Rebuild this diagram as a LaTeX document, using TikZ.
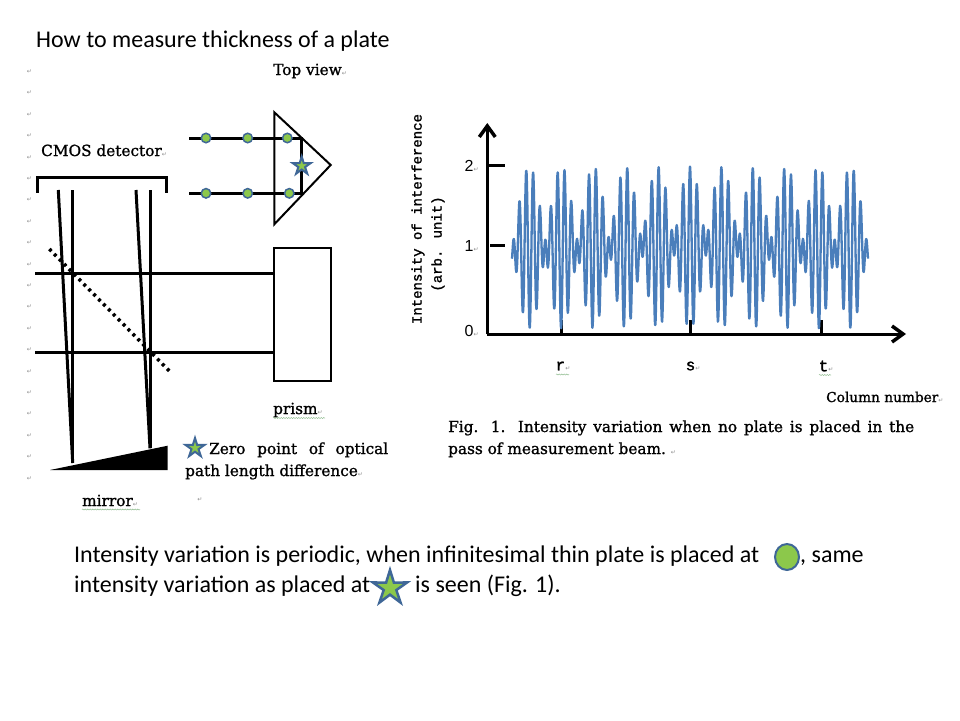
\documentclass[tikz,border=0pt]{standalone}
\usepackage{fontspec}
\setmainfont{Carlito}
\newfontfamily\labelfont{DejaVu Serif}[FakeBold=1.2]
\newfontfamily\monofont{Liberation Mono}[FakeBold=1.5]
\newfontfamily\numfont{Liberation Sans}
\newfontfamily\markfont{DejaVu Sans}
\usetikzlibrary{arrows.meta,shapes.geometric,decorations.pathmorphing}
\definecolor{platefill}{HTML}{8CC84B}
\definecolor{plateedge}{HTML}{3F6797}
\definecolor{curveblue}{HTML}{4A7EBB}
\definecolor{squigglegreen}{HTML}{8DBB8D}
\newcommand{\retmark}{{\markfont\mdseries\fontsize{6}{6}\selectfont\textcolor{black!45}{↵}}}
\tikzset{
  beam/.style={line width=3pt},
  heavy/.style={line width=3pt},
  thinbox/.style={line width=2pt},
  axis/.style={line width=3pt,-{Straight Barb[length=11pt,width=16pt,line width=3.5pt]}},
  platedot/.style={circle,fill=platefill,draw=plateedge,line width=1.5pt,inner sep=0pt,minimum size=9.5pt},
  zerostar/.style={star,star points=5,star point ratio=2.7,fill=platefill,draw=plateedge,line width=2pt,inner sep=0pt},
  lab/.style={font=\labelfont\fontsize{15.3}{17}\selectfont,inner sep=0pt,anchor=base west},
  monolab/.style={font=\monofont\fontsize{14}{16}\selectfont,inner sep=0pt},
  numlab/.style={font=\numfont\fontsize{16}{16}\selectfont,inner sep=0pt,anchor=base west},
  slidetext/.style={font=\fontsize{24}{28}\selectfont,inner sep=0pt,anchor=base west},
  squiggle/.style={squigglegreen,line width=0.5pt,decorate,decoration={snake,amplitude=0.5pt,segment length=2.5pt}}
}
\begin{document}
\begin{tikzpicture}[x=1pt,y=-1pt]
\useasboundingbox (0,0) rectangle (960,720);
\node[slidetext] (title) at (36,47) {How to measure thickness of a plate};
% paragraph marks down the left side
\foreach \i in {0,...,19}
\node[inner sep=0pt] (ret\i) at (29.5,71.7+21.4*\i) {\retmark};
% top view
\node[lab] (topview) at (273,75) {Top view\retmark};
\draw[thinbox,line join=miter] (274.3,112.3) -- (330.7,165) -- (274.3,224.3) -- cycle;
\draw[beam] (189.3,138) -- (301.7,138) -- (301.7,193.3) -- (189.3,193.3);
\foreach \x/\y in {206/138,247.7/138,287.3/138,206/193.3,247.7/193.3,289.3/193.3}
\node[platedot] at (\x,\y) {};
\node[zerostar,minimum size=19pt] (topstar) at (301.7,166) {};
% detector and beams
\node[lab] (cmos) at (41,156) {CMOS detector\retmark};
\draw[heavy] (37.3,192.7) -- (37.3,177) -- (166.7,177) -- (166.7,192.7);
\draw[beam] (58.3,190) -- (72.7,463);
\draw[beam] (72.3,190) -- (72.3,463);
\draw[beam] (136,190) -- (150,448.3);
\draw[beam] (150,190) -- (150,448.3);
\draw[beam] (35,273.7) -- (274,273.7);
\draw[beam] (35,352.3) -- (274,352.3);
\draw[line width=3.5pt,dash pattern=on 3pt off 4pt] (49.3,249) -- (170,371.7);
\draw[thinbox,fill=white] (274,247.7) rectangle (330.7,381);
\node[lab] (prism) at (273,414) {prism\retmark};
\draw[squiggle] (273,418) -- (325,418);
% mirror
\fill (50,470) -- (167.7,445.7) -- (167.7,470) -- cycle;
\node[lab] (mirror) at (82,506) {mirror\retmark};
\draw[squiggle] (82,509.5) -- (140,509.5);
\node[inner sep=0pt] (retb) at (200,500) {\retmark};
% zero point note
\node[zerostar,minimum size=20pt] (notestar) at (195,448) {};
\node[lab] (zeroa) at (209,454) {\makebox[179pt][s]{Zero point of optical}};
\node[lab] (zerob) at (185,476) {path length difference\retmark};
% graph
\draw[axis] (487.3,334) -- (487.3,123);
\draw[axis] (487.3,334) -- (906,334);
\draw[heavy] (489,165.7) -- (505,165.7);
\draw[heavy] (490,245.7) -- (505,245.7);
\foreach \x in {561.3,690,821}
\draw[heavy] (\x,334) -- (\x,319.5);
\draw[curveblue,line width=2.3pt,line join=round]
  plot[domain=512:868,samples=537,smooth] (\x,{247.5-81*(0.55*cos(57.25*(\x-690))+0.45*cos(46.05*(\x-690)))});
\node[numlab] (ytwo) at (464.5,171) {2\retmark};
\node[numlab] (yone) at (464.5,251) {1\retmark};
\node[numlab] (yzero) at (464.5,336) {0\retmark};
\node[monolab,rotate=90] (ylaba) at (418,219) {Intensity of interference};
\node[monolab,rotate=90] (ylabb) at (438,244) {(arb. unit)};
\node[monolab,font=\monofont\fontsize{16}{16}\selectfont] (labr) at (563,366) {r\retmark};
\node[monolab,font=\monofont\fontsize{16}{16}\selectfont] (labs) at (693,366) {s\retmark};
\node[monolab,font=\monofont\fontsize{16}{16}\selectfont] (labt) at (826,366) {t\retmark};
\draw[squiggle] (556,374.5) -- (569,374.5);
\draw[squiggle] (819,375) -- (831,375);
\node[lab,font=\labelfont\fontsize{13.7}{15}\selectfont] (colnum) at (826,402) {Column number\retmark};
\node[lab] (capa) at (448,432) {\makebox[466pt][s]{Fig. 1. Intensity variation when no plate is placed in the}};
\node[lab] (capb) at (448,454) {pass of measurement beam.\ \retmark};
% text under the figures
\node[slidetext] (texta) at (74,562) {Intensity variation is periodic, when infinitesimal thin plate is placed at};
\node[ellipse,fill=platefill,draw=plateedge,line width=2pt,inner sep=0pt,minimum width=24pt,minimum height=26pt] (keydot) at (787,557) {};
\node[slidetext] (textb) at (800,562) {, same};
\node[slidetext] (textc) at (74,592) {intensity variation as placed at};
\node[zerostar,line width=2.5pt,minimum size=36pt] (keystar) at (390,588) {};
\node[slidetext] (textd) at (415,592) {is seen (Fig. 1).};
\end{tikzpicture}
\end{document}
